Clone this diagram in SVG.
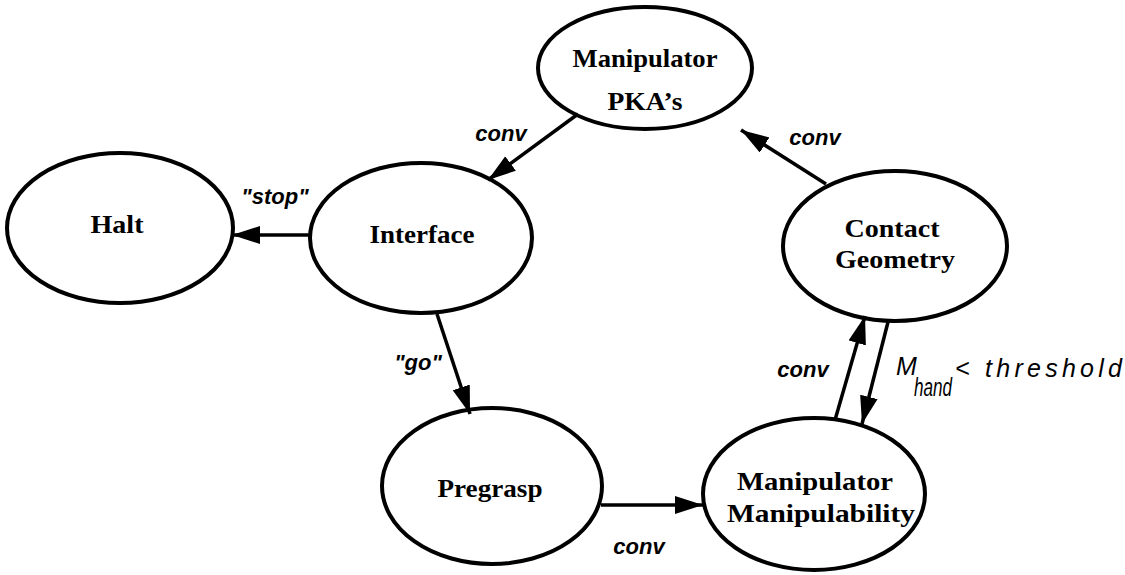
<svg xmlns="http://www.w3.org/2000/svg" width="1125" height="575" viewBox="0 0 1125 575">
  <style>
    .node ellipse { fill: #ffffff; stroke: #000000; stroke-width: 4; }
    .node text { font-family: "Liberation Serif", "Times New Roman", serif; font-weight: bold; font-size: 26px; fill: #000000; text-anchor: middle; }
    .edge { stroke: #000000; stroke-width: 3.5; fill: none; marker-end: url(#arrow); }
    .lbl { font-family: "Liberation Sans", Arial, sans-serif; font-style: italic; font-weight: bold; font-size: 22px; fill: #000000; text-anchor: middle; }
    .cond { font-family: "Liberation Sans", Arial, sans-serif; font-style: italic; font-size: 25px; fill: #000000; }
  </style>
  <defs>
    <marker id="arrow" markerUnits="userSpaceOnUse" markerWidth="32" markerHeight="22" refX="28" refY="9" orient="auto">
      <path d="M0,0 L28,9 L0,18 z" fill="#000000"/>
    </marker>
  </defs>
  <rect x="0" y="0" width="1125" height="575" fill="#ffffff"/>

  <!-- state nodes -->
  <g id="node-pkas" class="node">
    <ellipse cx="645" cy="68" rx="107" ry="61"/>
    <text x="645" y="67" textLength="145" lengthAdjust="spacingAndGlyphs">Manipulator</text>
    <text x="645" y="110" textLength="75" lengthAdjust="spacingAndGlyphs">PKA’s</text>
  </g>
  <g id="node-halt" class="node">
    <ellipse cx="120" cy="228" rx="113" ry="75"/>
    <text x="117" y="233" textLength="53" lengthAdjust="spacingAndGlyphs">Halt</text>
  </g>
  <g id="node-interface" class="node">
    <ellipse cx="421" cy="238" rx="111" ry="75"/>
    <text x="422" y="243" textLength="105" lengthAdjust="spacingAndGlyphs">Interface</text>
  </g>
  <g id="node-contact" class="node">
    <ellipse cx="895" cy="246" rx="112" ry="75"/>
    <text x="892" y="237" textLength="95" lengthAdjust="spacingAndGlyphs">Contact</text>
    <text x="895" y="268" textLength="120" lengthAdjust="spacingAndGlyphs">Geometry</text>
  </g>
  <g id="node-pregrasp" class="node">
    <ellipse cx="492" cy="486" rx="110" ry="78"/>
    <text x="490" y="497" textLength="105" lengthAdjust="spacingAndGlyphs">Pregrasp</text>
  </g>
  <g id="node-manipulability" class="node">
    <ellipse cx="814" cy="494" rx="111" ry="76"/>
    <text x="815" y="490" textLength="156" lengthAdjust="spacingAndGlyphs">Manipulator</text>
    <text x="821" y="522" textLength="188" lengthAdjust="spacingAndGlyphs">Manipulability</text>
  </g>

  <!-- transitions -->
  <g id="connectors">
    <line class="edge" x1="578" y1="114" x2="488" y2="180"/>
    <line class="edge" x1="826" y1="184" x2="741" y2="130"/>
    <line class="edge" x1="310" y1="235" x2="232" y2="235"/>
    <line class="edge" x1="437" y1="314" x2="470" y2="414"/>
    <line class="edge" x1="601" y1="505" x2="703" y2="505"/>
    <line class="edge" x1="835" y1="420" x2="865" y2="316"/>
    <line class="edge" x1="888" y1="322" x2="862" y2="424"/>

    <text class="lbl" x="501" y="141">conv</text>
    <text class="lbl" x="815" y="145">conv</text>
    <text class="lbl" x="275" y="204">"stop"</text>
    <text class="lbl" x="418" y="370">"go"</text>
    <text class="lbl" x="639" y="554">conv</text>
    <text class="lbl" x="803" y="377">conv</text>
    <text class="cond" x="896" y="375" font-size="23">M</text>
    <text class="cond" x="914" y="396" font-size="19" textLength="38" lengthAdjust="spacingAndGlyphs">hand</text>
    <text class="cond" x="955" y="377" textLength="167" lengthAdjust="spacing">&lt; threshold</text>
  </g>
</svg>
